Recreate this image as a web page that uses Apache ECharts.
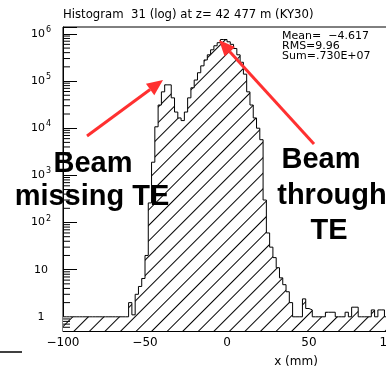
<!DOCTYPE html>
<html><head><meta charset="utf-8">
<script src="https://cdn.jsdelivr.net/npm/echarts@6/dist/echarts.min.js"></script>
<style>html,body{margin:0;padding:0;background:#fff}#c{width:386px;height:368px}</style>
</head><body><div id="c"></div>
<script>
// ---- data ----
const binStart = -100, binWidth = 2;
const counts = [
  1,1,1,1,1,1,1,1,1,1, 1,1,1,1,1,1,1,1,1,1,
  2,1.1,3,4.4,6.5,20,260,1900,10700,31000,
  59000,83000,83000,44000,22000,16500,14500,22000,44000,72000,
  105000,150000,210000,280000,360000,460000,560000,650000,760000,760000,
  680000,600000,490000,360000,250000,140000,59000,31000,16500,10000,
  5700,300,60,30,18,11,6.7,4.8,3.4,2,
  1,1,1,2.4,1.5,1.4,1,1,1,1,
  1.25,1.25,1.25,1,1,1,1.25,1,1.6,1.6,
  1,1,1,1,1.4,1,1.4,1.4,1,1
];
const xTickLabels = [-100, -50, 0, 50, 100];
const yDecades = [1, 10, 100, 1e3, 1e4, 1e5, 1e6];
const yMinorBelowOne = [0.6, 0.7, 0.8, 0.9];
const yMantissas = [2, 3, 4, 5, 6, 7, 8, 9];
const titleText = 'Histogram  31 (log) at z= 42 477 m (KY30)';
const statsLines = ['Mean=  \u22124.617', 'RMS=9.96', 'Sum=.730E+07'];
const xTitle = 'x (mm)';
const notes = [
  { text: 'Beam', x: 93, y: 164 },
  { text: 'missing TE', x: 92, y: 197 },
  { text: 'Beam', x: 321, y: 160 },
  { text: 'through', x: 332, y: 196 },
  { text: 'TE', x: 329, y: 231 }
];
const arrows = [
  { from: [87, 136], to: [163, 80] },
  { from: [314, 144], to: [219, 40] }
];

// ---- build ----
const histPts = counts.map((v, i) => [binStart + i * binWidth, v]);
histPts.push([binStart + counts.length * binWidth, counts[counts.length - 1]]);
const yMinor = yMinorBelowOne.slice();
yDecades.slice(0, -1).forEach(d => yMantissas.forEach(m => yMinor.push(m * d)));

const FONT = 'DejaVu Sans';
const RED = '#ff3030';
const hatch = { symbol: 'rect', symbolSize: 1, dashArrayX: [1, 0], dashArrayY: [1, 10], rotation: -Math.PI / 4, color: '#000' };

const graphics = [];
arrows.forEach(a => {
  const dx = a.to[0] - a.from[0], dy = a.to[1] - a.from[1];
  const L = Math.hypot(dx, dy), ux = dx / L, uy = dy / L;
  const hl = 16, hw = 7;
  const bx = a.to[0] - ux * hl, by = a.to[1] - uy * hl;
  graphics.push({ type: 'line', silent: true, z: 100,
    shape: { x1: a.from[0], y1: a.from[1], x2: bx, y2: by },
    style: { stroke: RED, lineWidth: 3 } });
  graphics.push({ type: 'polygon', silent: true, z: 100,
    shape: { points: [[a.to[0], a.to[1]], [bx - uy * hw, by + ux * hw], [bx + uy * hw, by - ux * hw]] },
    style: { fill: RED } });
});
notes.forEach(n => graphics.push({ type: 'text', silent: true, z: 101, x: n.x, y: n.y,
  style: { text: n.text, font: 'bold 29px "Liberation Sans"', fill: '#000', align: 'center', verticalAlign: 'middle' } }));
graphics.push({ type: 'text', silent: true, x: 282, y: 31,
  style: { text: statsLines.join('\n'), font: '11px "DejaVu Sans"', lineHeight: 10, fill: '#000', align: 'left', verticalAlign: 'top' } });
graphics.push({ type: 'text', silent: true, x: 296, y: 362,
  style: { text: xTitle, font: '12px "DejaVu Sans"', fill: '#000', align: 'center', verticalAlign: 'middle' } });
graphics.push({ type: 'line', silent: true, shape: { x1: 0, y1: 352, x2: 22, y2: 352 }, style: { stroke: '#000', lineWidth: 1.5 } });

const chart = echarts.init(document.getElementById('c'), null, { renderer: 'canvas' });
chart.setOption({
  animation: false,
  backgroundColor: '#fff',
  title: { text: titleText, left: 63, top: 9, padding: 0,
    textStyle: { fontFamily: FONT, fontSize: 11.7, fontWeight: 'normal', color: '#000' } },
  grid: { left: 63, right: -5, top: 27, bottom: 37, show: true, borderColor: '#000', borderWidth: 1,
    outerBoundsMode: 'none', containLabel: false },
  xAxis: {
    type: 'value', min: -100, max: 100, interval: 50,
    axisLine: { onZero: false, lineStyle: { color: '#000', width: 1 } },
    axisTick: { inside: true, length: 14, lineStyle: { color: '#000' } },
    minorTick: { show: true, splitNumber: 5, length: 7, lineStyle: { color: '#000' } },
    splitLine: { show: false },
    axisLabel: { color: '#000', fontFamily: FONT, fontSize: 12, margin: 6, hideOverlap: false,
      formatter: v => xTickLabels.indexOf(v) < 0 ? '' : (v < 0 ? '\u2212' + Math.abs(v) : String(v)) }
  },
  yAxis: {
    type: 'log', logBase: 10, min: 0.5, max: 1.4e6,
    axisLine: { show: true, onZero: false, lineStyle: { color: '#000', width: 1 } },
    axisTick: { inside: true, length: 14, lineStyle: { color: '#000' } },
    splitLine: { show: false },
    axisLabel: {
      color: '#000', fontFamily: FONT, fontSize: 11, margin: 22, align: 'center',
      formatter: v => {
        const d = yDecades.find(t => Math.abs(Math.log10(v) - Math.log10(t)) < 1e-6);
        if (d === undefined) return '';
        const e = Math.round(Math.log10(d));
        if (e === 0) return '{b|1}';
        if (e === 1) return '{b|10}';
        return '{b|10}{s|' + e + '}';
      },
      rich: {
        b: { fontFamily: FONT, fontSize: 11, color: '#000', lineHeight: 16, verticalAlign: 'middle' },
        s: { fontFamily: FONT, fontSize: 8, color: '#000', lineHeight: 9, verticalAlign: 'top', padding: [0, 0, 0, 1] }
      }
    }
  },
  series: [
    {
      type: 'line', step: 'end', data: histPts, symbol: 'none', z: 3,
      lineStyle: { color: '#000', width: 1, decal: hatch },
      itemStyle: { decal: hatch },
      areaStyle: { origin: 'start', color: '#fff', opacity: 1, decal: hatch }
    },
    {
      type: 'custom', z: 5, silent: true,
      data: yMinor.map(v => [-100, v]),
      renderItem: (params, api) => {
        const p = api.coord([api.value(0), api.value(1)]);
        return { type: 'line', shape: { x1: p[0], y1: p[1], x2: p[0] + 7, y2: p[1] },
          style: { stroke: '#000', lineWidth: 1 } };
      }
    }
  ],
  graphic: graphics
});
</script></body></html>
